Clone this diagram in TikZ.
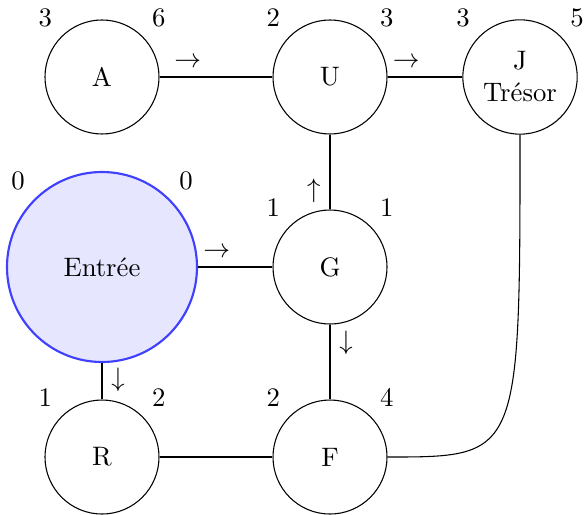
\documentclass[tikz,border=0pt]{standalone}
\usepackage{tikz}
\usetikzlibrary{arrows.meta, positioning, calc}
\definecolor{startblue}{HTML}{4040FF}
\definecolor{startfill}{HTML}{E6E6FF}

\begin{document}
\begin{tikzpicture}[
    room/.style={circle, draw, minimum size=1.5cm},
    entry/.style={circle, draw=startblue, fill=startfill, thick, minimum size=2.5cm}
  ]
  \useasboundingbox (-1.342,-0.75) rectangle (6.355,6.013);
  % Top row
  \node[room, label=135:3, label=45:6] (A) at (0,5) {A};
  \node[room, label=135:2, label=45:3] (U) at (3,5) {U};
  \node[room, label=135:3, label=45:5, align=center] (J) at (5.5,5) {J\\Trésor};
  % Middle row
  \node[entry, label=135:0, label=45:0] (E) at (0,2.5) {Entrée};
  \node[room, label=135:1, label=45:1] (G) at (3,2.5) {G};
  % Bottom row
  \node[room, label=135:1, label=45:2] (R) at (0,0) {R};
  \node[room, label=135:2, label=45:4] (F) at (3,0) {F};
  % Corridors
  \draw (A) -- node[above, pos=.25] {$\rightarrow$} (U);
  \draw (U) -- node[above, pos=.25] {$\rightarrow$} (J);
  \draw (G) -- node[left, pos=.25] {$\uparrow$} (U);
  \draw (E) -- node[above, pos=.25] {$\rightarrow$} (G);
  \draw (G) -- node[right, pos=.25] {$\downarrow$} (F);
  \draw (E) -- node[right, pos=.45] {$\downarrow$} (R);
  \draw (R) -- (F);
  \draw (J) .. controls (J |- F) .. (F);
\end{tikzpicture}
\end{document}
